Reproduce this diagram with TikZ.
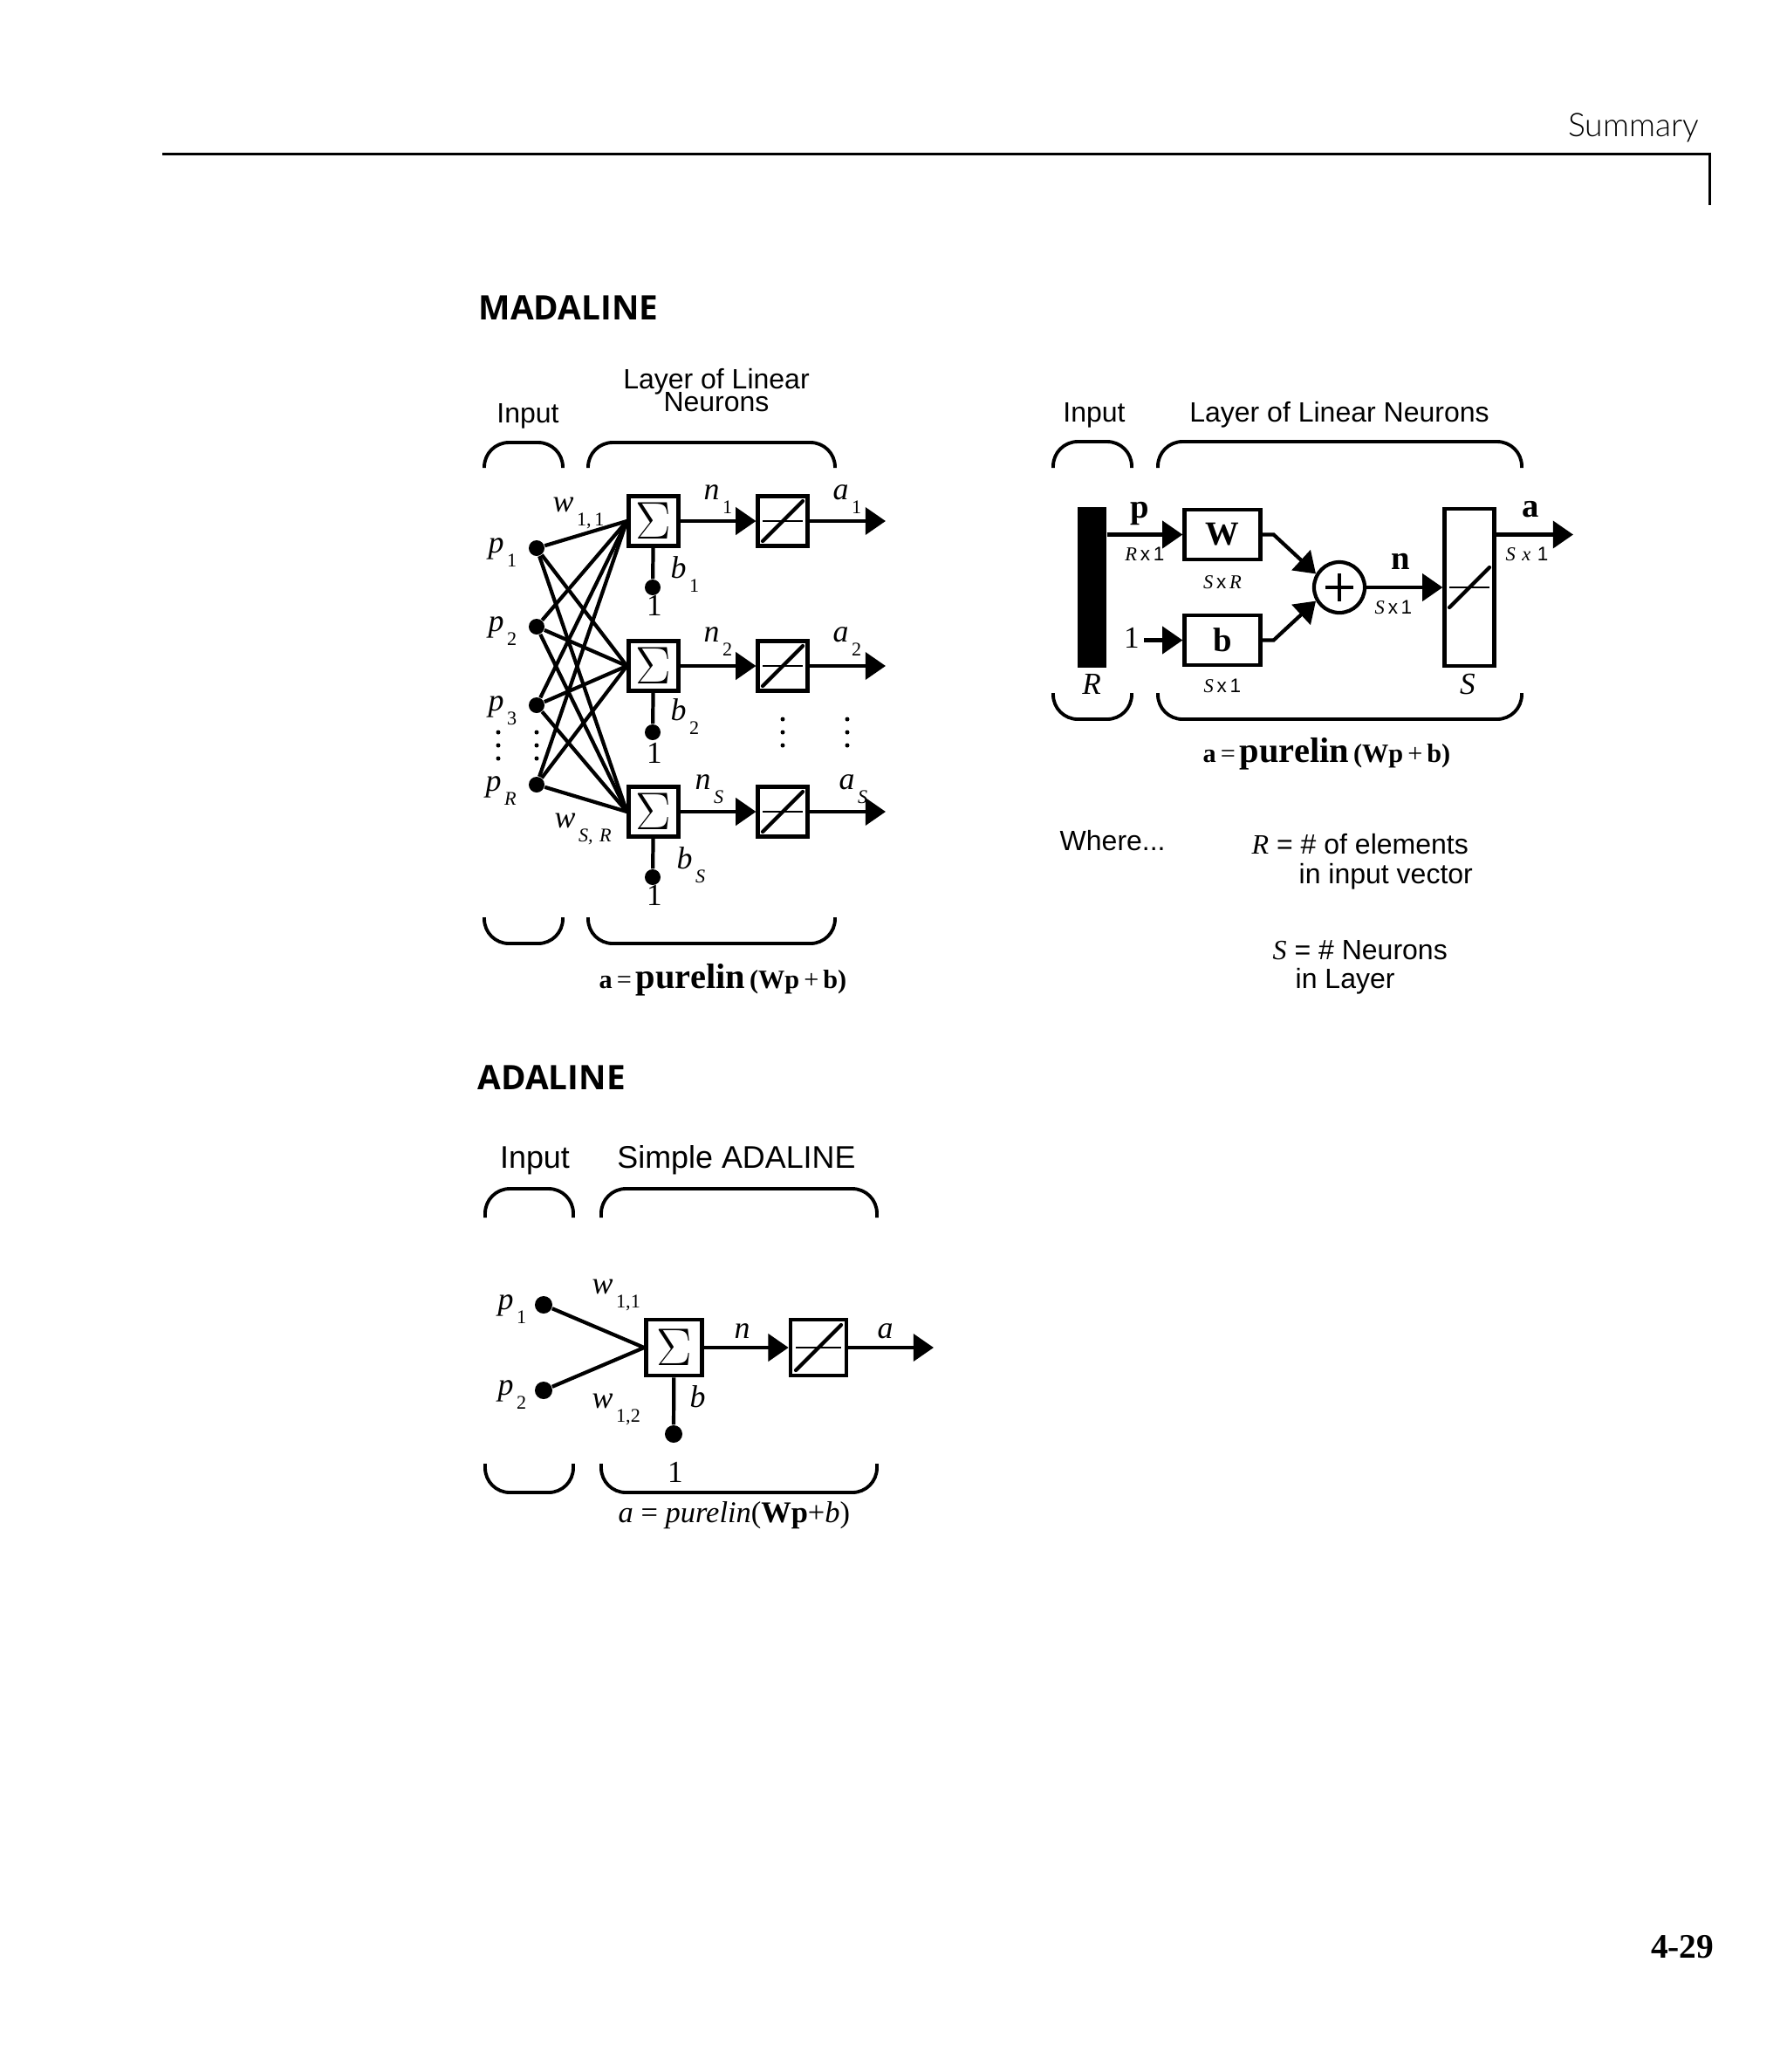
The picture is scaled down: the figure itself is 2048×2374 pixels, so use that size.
\documentclass[tikz,border=0pt]{standalone}
\usepackage{fontspec}
\usepackage{tikz}
\usetikzlibrary{arrows.meta}
\setmainfont{Liberation Serif}
\setsansfont{Liberation Sans}
\newfontfamily\headfont{Open Sans}
\newfontfamily\runfont{Lato}[UprightFont=* Light]
\newcommand{\fsz}[1]{\fontsize{#1}{#1}\selectfont}
\newcommand{\subl}[2]{\textit{#1}\hspace{1pt}\raisebox{-4.8pt}{\fsz{6.3}#2}}
\newcommand{\linsym}[3]{%
  \draw[line width=.5pt] (#1.center) ++(-#2,0) -- ++(2*#2,0);
  \draw[line width=1.2pt,line cap=round] (#1.center) ++(-#2,#3) -- ++(2*#2,-2*#3);}
\newcommand{\purel}{\bfseries\fsz{8.6}a\,{\mdseries=}\,{\fsz{11.5}purelin}\,(Wp\,{\mdseries+}\,b)}
\tikzset{
  conn/.style={line width=1.2pt},
  arrw/.style={conn,-{Triangle[length=6.6pt,width=8.8pt]}},
  brk/.style={line width=1.1pt,rounded corners=8pt},
  blk/.style={draw,line width=1.3pt,inner sep=0pt,minimum size=0.565cm},
  dotn/.style={circle,fill=black,inner sep=0pt,minimum size=0.18cm},
  tdot/.style={circle,fill=black,inner sep=0pt,minimum size=0.05cm},
  lab/.style={anchor=base west,inner sep=0pt,font=\fsz{10.2}},
  num/.style={anchor=base,inner sep=0pt,font=\fsz{10}},
  ttl/.style={anchor=base,inner sep=0pt,font=\sffamily\fsz{9.1}},
  dimn/.style={anchor=base,inner sep=0pt,font=\fsz{6.4}},
  bold/.style={anchor=base,inner sep=0pt,font=\bfseries\fsz{11}},
  head/.style={anchor=base west,inner sep=0pt,font=\headfont\bfseries\fsz{11}},
  note/.style={anchor=base west,inner sep=0pt,font=\sffamily\fsz{9.1}}
}
\begin{document}
\begin{tikzpicture}[x=0.01cm,y=-0.01cm]
  \useasboundingbox (0,0) rectangle (2048,2374);
  % page furniture
  \draw[line width=.85pt] (186,176) -- (1959,176) -- (1959,235);
  \node[anchor=base east,inner sep=0pt,font=\runfont\fsz{10.6}] (runhead) at (1948,156) {Summary};
  \node[anchor=base east,inner sep=0pt,font=\bfseries\fsz{11.2}] (pageno) at (1965,2243) {4-29};
  \node[head] (madaline) at (548,366) {MADALINE};
  \node[head] (adaline) at (547,1248) {ADALINE};

  % MADALINE, scalar form
  \node[ttl] (inA) at (605,484) {Input};
  \node[ttl,anchor=center,align=center] (layA) at (821,447) {Layer of Linear\\[-1.6pt]Neurons};
  \draw[brk] (555,536) -- (555,507) -- (645,507) -- (645,536);
  \draw[brk] (674,536) -- (674,507) -- (957,507) -- (957,536);
  \draw[brk] (555,1051) -- (555,1081) -- (645,1081) -- (645,1051);
  \draw[brk] (674,1051) -- (674,1081) -- (957,1081) -- (957,1051);
  \foreach \n/\y in {1/628,2/718,3/808,R/899}
    \node[dotn] (p\n) at (615,\y) {};
  \foreach \n/\y/\by in {1/597/673,2/763/839,S/930/1005}{
    \node[blk] (sum\n) at (749,\y) {\fsz{16}$\Sigma$};
    \node[blk] (lin\n) at (897,\y) {};
    \node[dotn] (bias\n) at (748,\by) {};
    \coordinate (out\n) at (1015,\y);
    \draw[conn] (sum\n) -- (bias\n);
    \draw[arrw] (sum\n) -- (lin\n);
    \draw[arrw] (lin\n) -- (out\n);
    \linsym{lin\n}{23}{23}
  }
  \foreach \i in {1,2,3,R}
    \foreach \j in {1,2,S}
      \draw[conn] (p\i) -- (sum\j.west);
  \foreach \n/\x/\y/\s in {pa/559/633/1,pb/559/723/2,pc/559/814/3}
    \node[lab] (\n) at (\x,\y) {\subl{p}{\s}};
  \node[lab] (pr) at (556,906) {\subl{p}{\textit{R}}};
  \node[lab] (wa) at (633,586) {\subl{w}{1,\,1}};
  \node[lab] (wb) at (635,948) {\subl{w}{\textit{S,\,\,R}}};
  \node[lab] (na) at (806,572) {\subl{n}{1}};
  \node[lab] (nb) at (806,735) {\subl{n}{2}};
  \node[lab] (nc) at (796,904) {\subl{n}{\textit{S}}};
  \node[lab] (aa) at (954,572) {\subl{a}{1}};
  \node[lab] (ab) at (954,735) {\subl{a}{2}};
  \node[lab] (ac) at (961,904) {\subl{a}{\textit{S}}};
  \node[lab] (ba) at (768,662) {\subl{b}{1}};
  \node[lab] (bb) at (768,825) {\subl{b}{2}};
  \node[lab] (bc) at (775,995) {\subl{b}{\textit{S}}};
  \node[num] (ona) at (750,705) {1};
  \node[num] (onb) at (750,874) {1};
  \node[num] (onc) at (750,1037) {1};
  \foreach \k/\y in {1/839,2/854,3/869}{
    \node[tdot] (dl\k) at (571,\y) {};
    \node[tdot] (dm\k) at (615,\y) {};
  }
  \foreach \k/\y in {1/824,2/839,3/854}{
    \node[tdot] (dn\k) at (897,\y) {};
    \node[tdot] (dr\k) at (971,\y) {};
  }
  \node[anchor=base west,inner sep=0pt] (eqA) at (686,1132) {\purel};

  % MADALINE, matrix form
  \node[ttl] (inB) at (1254,483) {Input};
  \node[ttl] (layB) at (1535,483) {Layer of Linear Neurons};
  \draw[brk] (1207,536) -- (1207,506) -- (1297,506) -- (1297,536);
  \draw[brk] (1327,536) -- (1327,506) -- (1744,506) -- (1744,536);
  \draw[brk] (1207,794) -- (1207,824) -- (1297,824) -- (1297,794);
  \draw[brk] (1327,794) -- (1327,824) -- (1744,824) -- (1744,794);
  \node[fill=black,inner sep=0pt,minimum width=0.33cm,minimum height=1.84cm] (bar) at (1251.5,673) {};
  \node[draw,line width=1.2pt,inner sep=0pt,minimum width=0.87cm,minimum height=0.57cm] (wbox) at (1401,612.5) {\bfseries\fsz{11}W};
  \node[draw,line width=1.2pt,inner sep=0pt,minimum width=0.87cm,minimum height=0.57cm] (bbox) at (1401,733.5) {\bfseries\fsz{11}b};
  \node[draw,circle,line width=1.2pt,inner sep=0pt,minimum size=0.58cm] (plus) at (1535,673) {};
  \draw[line width=1pt] (plus.center) ++(-16,0) -- ++(32,0);
  \draw[line width=1pt] (plus.center) ++(0,-16) -- ++(0,32);
  \node[draw,line width=1.2pt,inner sep=0pt,minimum width=0.57cm,minimum height=1.8cm] (linM) at (1684,673) {};
  \linsym{linM}{23}{23}
  \node[num,anchor=base] (oneB) at (1297,742) {1};
  \coordinate (startB) at (1311,733.5);
  \coordinate (outM) at (1803,612.5);
  \draw[arrw] (bar.east |- wbox.west) -- (wbox.west);
  \draw[arrw] (startB) -- (bbox.west);
  \draw[arrw] (wbox.east) -- ++(13,0) -- (plus.150);
  \draw[arrw] (bbox.east) -- ++(13,0) -- (plus.210);
  \draw[arrw] (plus) -- (linM.west);
  \draw[arrw] (linM.east |- outM) -- (outM);
  \node[bold] (pvec) at (1306,593) {p};
  \node[bold] (avec) at (1754,592) {a};
  \node[bold] (nvec) at (1605,652) {n};
  \node[dimn] (dimp) at (1312,642) {\textit{R}\,{\sffamily x\,1}};
  \node[dimn] (dimw) at (1401,674) {\textit{S}\,{\sffamily x}\,\textit{R}};
  \node[dimn] (dimb) at (1401,793) {\textit{S}\,{\sffamily x\,1}};
  \node[dimn] (dimn) at (1597,703) {\textit{S}\,{\sffamily x\,1}};
  \node[dimn] (dima) at (1750,642) {\textit{S\,\,x}\,\,{\sffamily 1}};
  \node[num,font=\itshape\fsz{10}] (rsz) at (1251,795) {R};
  \node[num,font=\itshape\fsz{10}] (ssz) at (1682,795) {S};
  \node[anchor=base west,inner sep=0pt] (eqB) at (1378,873) {\purel};
  \node[note] (where) at (1214,974) {Where...};
  \node[note] (rdef) at (1434,978) {\textit{\rmfamily R} = \# of elements};
  \node[note] (rdefb) at (1488,1012) {in input vector};
  \node[note] (sdef) at (1458,1099) {\textit{\rmfamily S} = \# Neurons};
  \node[note] (sdefb) at (1484,1132) {in Layer};

  % ADALINE
  \node[ttl,font=\sffamily\fsz{10.2}] (inC) at (613,1338) {Input};
  \node[ttl,font=\sffamily\fsz{10.2}] (layC) at (844,1338) {Simple ADALINE};
  \draw[brk] (556,1395) -- (556,1362) -- (657,1362) -- (657,1395);
  \draw[brk] (689,1395) -- (689,1362) -- (1005,1362) -- (1005,1395);
  \draw[brk] (556,1677) -- (556,1710) -- (657,1710) -- (657,1677);
  \draw[brk] (689,1677) -- (689,1710) -- (1005,1710) -- (1005,1677);
  \node[dotn,minimum size=0.2cm] (pA) at (623,1495) {};
  \node[dotn,minimum size=0.2cm] (pB) at (623,1593) {};
  \node[blk,minimum size=0.64cm] (sumC) at (772.5,1544) {\fsz{18}$\Sigma$};
  \node[blk,minimum size=0.64cm] (linC) at (938,1544) {};
  \node[dotn,minimum size=0.2cm] (biasC) at (772,1643) {};
  \coordinate (outC) at (1070,1544);
  \draw[conn] (pA) -- (sumC.west);
  \draw[conn] (pB) -- (sumC.west);
  \draw[conn] (sumC) -- (biasC);
  \draw[arrw] (sumC) -- (linC);
  \draw[arrw] (linC) -- (outC);
  \linsym{linC}{26}{26}
  \node[lab] (lpa) at (570,1500) {\subl{p}{1}};
  \node[lab] (lpb) at (570,1598) {\subl{p}{2}};
  \node[lab] (lwa) at (678,1482) {\subl{w}{1,1}};
  \node[lab] (lwb) at (678,1613) {\subl{w}{1,2}};
  \node[lab] (ln) at (841,1533) {\textit{n}};
  \node[lab] (la) at (1005,1533) {\textit{a}};
  \node[lab] (lb) at (790,1612) {\textit{b}};
  \node[num] (lone) at (774,1698) {1};
  \node[anchor=base west,inner sep=0pt,font=\fsz{9.8}] (eqC) at (708,1744) {\textit{a} = \textit{purelin}(\textbf{Wp}+\textit{b})};
\end{tikzpicture}
\end{document}
